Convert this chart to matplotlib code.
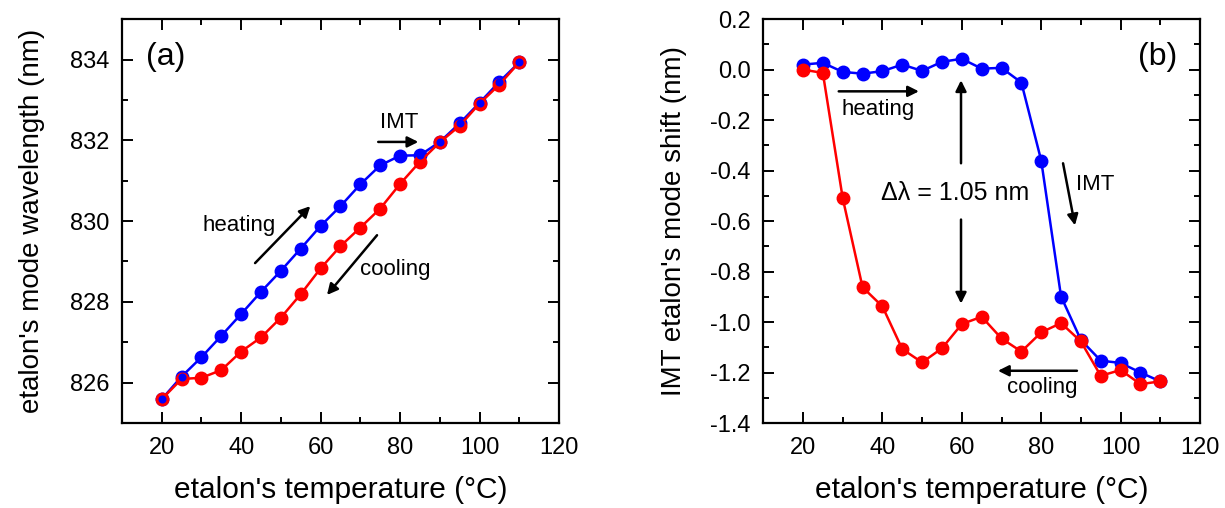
import matplotlib
matplotlib.use("Agg")
import matplotlib.pyplot as plt
from matplotlib.ticker import MultipleLocator

plt.rcParams["font.family"] = ["Liberation Sans", "DejaVu Sans"]
plt.rcParams["axes.unicode_minus"] = False

# Temperature steps (deg C)
temp = [20, 25, 30, 35, 40, 45, 50, 55, 60, 65, 70, 75, 80, 85, 90, 95, 100, 105, 110]

# (a) mode wavelength, nm
wl_heat = [825.59, 826.15, 826.63, 827.16, 827.70, 828.25, 828.77, 829.32, 829.88, 830.37,
           830.91, 831.38, 831.62, 831.63, 831.96, 832.42, 832.93, 833.45, 833.93]
wl_cool = [825.59, 826.09, 826.12, 826.31, 826.77, 827.12, 827.61, 828.19, 828.83, 829.38,
           829.84, 830.31, 830.92, 831.47, 831.95, 832.36, 832.91, 833.38, 833.93]

# (b) IMT mode shift, nm
sh_heat = [0.020, 0.027, -0.009, -0.016, -0.006, 0.020, -0.005, 0.031, 0.043, 0.004,
           0.007, -0.051, -0.360, -0.899, -1.071, -1.153, -1.162, -1.200, -1.235]
sh_cool = [0.000, -0.013, -0.509, -0.862, -0.938, -1.107, -1.160, -1.104, -1.008, -0.979,
           -1.065, -1.117, -1.041, -1.004, -1.077, -1.213, -1.190, -1.246, -1.235]

BLUE = "#0000ff"
RED = "#ff0000"
MS = 9
LW = 1.8

fig = plt.figure(figsize=(12.25, 5.08), dpi=100)
ax1 = fig.add_axes([0.0996, 0.1673, 0.3567, 0.795])
ax2 = fig.add_axes([0.6231, 0.1673, 0.3565, 0.795])

def style(ax):
    for s in ax.spines.values():
        s.set_linewidth(1.6)
    ax.tick_params(which="both", direction="in", top=True, right=True,
                   labelsize=17, width=1.4)
    ax.tick_params(axis="x", pad=10)
    ax.tick_params(axis="y", pad=9)
    ax.tick_params(which="major", length=8)
    ax.tick_params(which="minor", length=4.5)
    ax.set_xlim(10, 120)
    ax.xaxis.set_major_locator(MultipleLocator(20))
    ax.xaxis.set_minor_locator(MultipleLocator(10))
    ax.set_xlabel("etalon's temperature (°C)", fontsize=21.5, labelpad=12)

arrow = dict(arrowstyle="-|>", color="black", lw=1.8, mutation_scale=16, shrinkA=0, shrinkB=0)

# panel (a)
ax1.plot(temp, wl_heat, "-o", color=BLUE, lw=LW, ms=MS, mec=BLUE)
ax1.plot(temp, wl_cool, "-o", color=RED, lw=LW, ms=MS, mec=RED)
ax1.plot(temp, wl_heat, "o", color=BLUE, ms=4.8, mec=BLUE, ls="none")
style(ax1)
ax1.set_ylim(825, 835)
ax1.yaxis.set_major_locator(MultipleLocator(2))
ax1.yaxis.set_minor_locator(MultipleLocator(1))
ax1.set_ylabel("etalon's mode wavelength (nm)", fontsize=20, labelpad=18)
ax1.text(21.1, 834.06, "(a)", fontsize=23, ha="center", va="center")
ax1.text(39.5, 829.9, "heating", fontsize=16, ha="center", va="center")
ax1.annotate("", xy=(57.4, 830.37), xytext=(43.5, 828.96), arrowprops=arrow)
ax1.text(79.8, 832.45, "IMT", fontsize=16, ha="center", va="center")
ax1.annotate("", xy=(84.6, 831.96), xytext=(74.5, 831.96), arrowprops=arrow)
ax1.text(78.8, 828.79, "cooling", fontsize=16, ha="center", va="center")
ax1.annotate("", xy=(61.6, 828.17), xytext=(74.2, 829.65), arrowprops=arrow)

# panel (b)
ax2.plot(temp, sh_heat, "-o", color=BLUE, lw=LW, ms=MS, mec=BLUE)
ax2.plot(temp, sh_cool, "-o", color=RED, lw=LW, ms=MS, mec=RED)
style(ax2)
ax2.set_ylim(-1.4, 0.2)
ax2.yaxis.set_major_locator(MultipleLocator(0.2))
ax2.yaxis.set_minor_locator(MultipleLocator(0.1))
ax2.yaxis.set_major_formatter(plt.FormatStrFormatter("%.1f"))
ax2.set_ylabel("IMT etalon's mode shift (nm)", fontsize=20, labelpad=17)
ax2.text(109.2, 0.049, "(b)", fontsize=23, ha="center", va="center")
ax2.text(38.9, -0.157, "heating", fontsize=16, ha="center", va="center")
ax2.annotate("", xy=(49.2, -0.086), xytext=(29.0, -0.086), arrowprops=arrow)
ax2.text(58.3, -0.487, "Δλ = 1.05 nm", fontsize=18, ha="center", va="center")
ax2.annotate("", xy=(59.8, -0.042), xytext=(59.8, -0.371), arrowprops=arrow)
ax2.annotate("", xy=(59.8, -0.927), xytext=(59.8, -0.594), arrowprops=arrow)
ax2.text(88.8, -0.457, "IMT", fontsize=16, ha="left", va="center")
ax2.annotate("", xy=(88.5, -0.617), xytext=(85.5, -0.371), arrowprops=arrow)
ax2.text(80.2, -1.26, "cooling", fontsize=16, ha="center", va="center")
ax2.annotate("", xy=(69.1, -1.193), xytext=(89.0, -1.193), arrowprops=arrow)

fig.savefig("out.png", dpi=100)
